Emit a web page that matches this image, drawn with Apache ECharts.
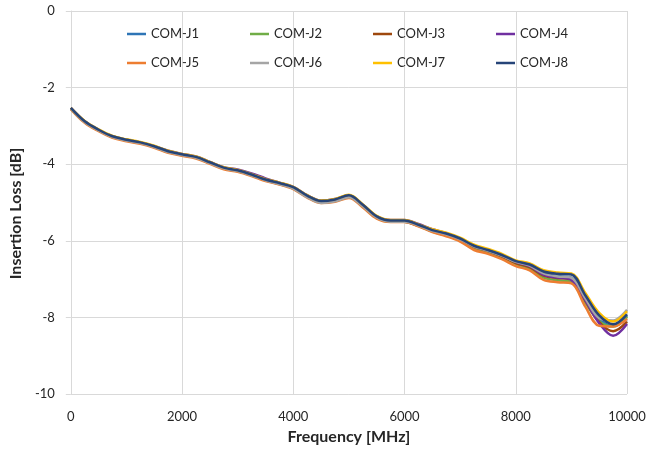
<!DOCTYPE html>
<html>
<head>
<meta charset="utf-8">
<title>Insertion Loss</title>
<script src="https://cdn.jsdelivr.net/npm/echarts@6/dist/echarts.min.js"></script>
<style>
  html, body { margin: 0; padding: 0; background: #fff; }
  #chart { width: 658px; height: 458px; }
</style>
</head>
<body>
<div id="chart"></div>
<script>
// frequency points (MHz)
var freq = [0, 250, 500, 750, 1000, 1250, 1500, 1750, 2000, 2250, 2500, 2750, 3000, 3250, 3500, 3750,
  4000, 4250, 4500, 4750, 5000, 5250, 5500, 5750, 6000, 6250, 6500, 6750, 7000, 7250, 7500, 7750,
  8000, 8250, 8500, 8750, 9000, 9250, 9500, 9750, 10000];

// insertion loss per port (dB)
var comJ1 = [-2.54, -2.89, -3.11, -3.28, -3.37, -3.44, -3.54, -3.67, -3.75, -3.82, -3.96, -4.10, -4.17, -4.28, -4.41, -4.51,
  -4.62, -4.84, -4.98, -4.94, -4.83, -5.08, -5.38, -5.49, -5.49, -5.60, -5.75, -5.85, -5.98, -6.19, -6.29, -6.42,
  -6.57, -6.67, -6.86, -6.92, -6.96, -7.50, -8.03, -8.22, -7.96];
var comJ2 = [-2.55, -2.90, -3.12, -3.29, -3.38, -3.45, -3.55, -3.68, -3.76, -3.83, -3.97, -4.11, -4.18, -4.29, -4.42, -4.52,
  -4.63, -4.85, -4.99, -4.95, -4.85, -5.10, -5.40, -5.50, -5.50, -5.61, -5.76, -5.86, -5.99, -6.19, -6.30, -6.43,
  -6.60, -6.72, -6.96, -7.03, -7.07, -7.62, -8.10, -8.24, -7.98];
var comJ3 = [-2.54, -2.89, -3.11, -3.28, -3.37, -3.44, -3.54, -3.67, -3.75, -3.82, -3.96, -4.10, -4.17, -4.27, -4.40, -4.50,
  -4.61, -4.83, -4.97, -4.93, -4.83, -5.08, -5.38, -5.49, -5.50, -5.61, -5.75, -5.85, -5.97, -6.16, -6.27, -6.41,
  -6.58, -6.69, -6.91, -6.97, -7.01, -7.56, -8.12, -8.36, -8.11];
var comJ4 = [-2.53, -2.88, -3.10, -3.27, -3.36, -3.43, -3.53, -3.65, -3.73, -3.80, -3.94, -4.08, -4.14, -4.24, -4.37, -4.48,
  -4.59, -4.81, -4.95, -4.91, -4.81, -5.06, -5.36, -5.46, -5.46, -5.56, -5.70, -5.80, -5.94, -6.14, -6.25, -6.38,
  -6.55, -6.66, -6.89, -6.96, -7.02, -7.55, -8.15, -8.48, -8.17];
var comJ5 = [-2.56, -2.92, -3.14, -3.31, -3.40, -3.47, -3.57, -3.70, -3.78, -3.85, -3.99, -4.13, -4.20, -4.31, -4.44, -4.53,
  -4.65, -4.87, -5.01, -4.98, -4.88, -5.13, -5.42, -5.51, -5.51, -5.62, -5.77, -5.88, -6.02, -6.24, -6.34, -6.48,
  -6.66, -6.77, -7.02, -7.08, -7.11, -7.72, -8.22, -8.24, -8.04];
var comJ6 = [-2.55, -2.90, -3.12, -3.29, -3.38, -3.45, -3.55, -3.68, -3.76, -3.83, -3.97, -4.11, -4.18, -4.29, -4.42, -4.52,
  -4.64, -4.86, -5.01, -4.97, -4.86, -5.10, -5.39, -5.50, -5.50, -5.60, -5.74, -5.83, -5.96, -6.15, -6.26, -6.39,
  -6.55, -6.65, -6.85, -6.93, -6.97, -7.50, -8.02, -8.08, -7.80];
var comJ7 = [-2.53, -2.87, -3.09, -3.26, -3.35, -3.42, -3.52, -3.65, -3.73, -3.80, -3.94, -4.08, -4.15, -4.26, -4.39, -4.48,
  -4.59, -4.81, -4.95, -4.91, -4.80, -5.05, -5.35, -5.46, -5.46, -5.57, -5.70, -5.79, -5.92, -6.10, -6.21, -6.34,
  -6.51, -6.59, -6.77, -6.83, -6.85, -7.36, -7.88, -8.11, -7.84];
var comJ8 = [-2.53, -2.88, -3.10, -3.27, -3.36, -3.43, -3.53, -3.66, -3.74, -3.81, -3.95, -4.09, -4.16, -4.27, -4.40, -4.49,
  -4.60, -4.82, -4.96, -4.92, -4.81, -5.06, -5.36, -5.47, -5.47, -5.58, -5.72, -5.81, -5.94, -6.13, -6.24, -6.37,
  -6.53, -6.62, -6.80, -6.86, -6.88, -7.42, -7.95, -8.18, -7.92];

var names = ['COM-J1', 'COM-J2', 'COM-J3', 'COM-J4', 'COM-J5', 'COM-J6', 'COM-J7', 'COM-J8'];
var values = [comJ1, comJ2, comJ3, comJ4, comJ5, comJ6, comJ7, comJ8];
var colors = ['#2E75B6', '#70AD47', '#9E480E', '#7030A0', '#ED7D31', '#A5A5A5', '#FFC000', '#264478'];

var font = 'Lato, "Open Sans", sans-serif';
var gridColor = '#D9D9D9';
var textColor = '#262626';

function pairs(vals) {
  var out = [];
  for (var i = 0; i < freq.length; i++) out.push([freq[i], vals[i]]);
  return out;
}

var series = [];
for (var i = 0; i < names.length; i++) {
  series.push({
    name: names[i],
    type: 'line',
    data: pairs(values[i]),
    smooth: 0.35,
    showSymbol: false,
    symbol: 'none',
    lineStyle: { width: 2.5, color: colors[i] },
    itemStyle: { color: colors[i] }
  });
}

var legendBase = {
  orient: 'horizontal',
  icon: 'rect',
  itemWidth: 19,
  itemHeight: 2.5,
  itemGap: 39,
  textStyle: { fontFamily: font, fontSize: 13, color: textColor, width: 60, lineHeight: 16 }
};

var chart = echarts.init(document.getElementById('chart'), null, { renderer: 'canvas' });
chart.setOption({
  animation: false,
  color: colors,
  grid: { left: 69, right: 31, top: 11, bottom: 64, containLabel: false },
  legend: [
    Object.assign({}, legendBase, { left: 122, top: 21, data: names.slice(0, 4) }),
    Object.assign({}, legendBase, { left: 122, top: 50, data: names.slice(4, 8) })
  ],
  xAxis: {
    type: 'value',
    min: 0,
    max: 10000,
    interval: 2000,
    name: 'Frequency [MHz]',
    nameLocation: 'middle',
    nameGap: 35,
    nameTextStyle: { fontFamily: font, fontSize: 16, fontWeight: 'bold', color: textColor },
    axisLine: { show: true, lineStyle: { color: gridColor, width: 1 } },
    axisTick: { show: true, length: 5, lineStyle: { color: gridColor } },
    axisLabel: { fontFamily: font, fontSize: 13, color: textColor, margin: 16,
      formatter: function (v) { return String(v); } },
    splitLine: { show: true, lineStyle: { color: gridColor, width: 1 } }
  },
  yAxis: {
    type: 'value',
    min: -10,
    max: 0,
    interval: 2,
    name: 'Insertion Loss [dB]',
    nameLocation: 'middle',
    nameGap: 29,
    nameTextStyle: { fontFamily: font, fontSize: 16, fontWeight: 'bold', color: textColor,
      padding: [0, 22, 0, 0] },
    axisLine: { show: true, lineStyle: { color: gridColor, width: 1 } },
    axisTick: { show: true, length: 5, lineStyle: { color: gridColor } },
    axisLabel: { fontFamily: font, fontSize: 13, color: textColor, margin: 16 },
    splitLine: { show: true, lineStyle: { color: gridColor, width: 1 } }
  },
  series: series
});
</script>
</body>
</html>
